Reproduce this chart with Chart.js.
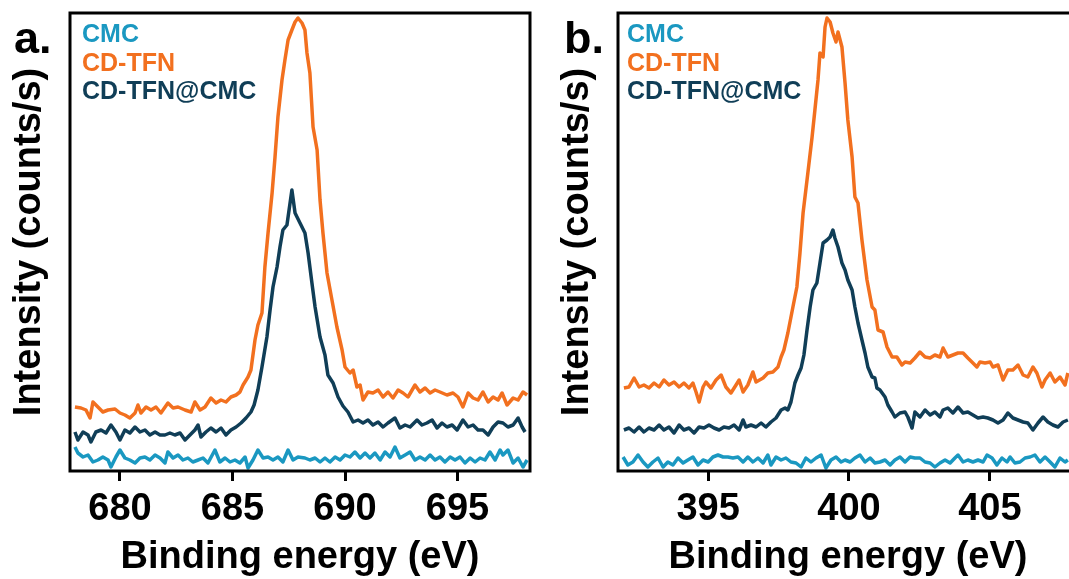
<!DOCTYPE html>
<html>
<head>
<meta charset="utf-8">
<script src="https://cdn.jsdelivr.net/npm/chart.js@4.4.1/dist/chart.umd.min.js"></script>
<style>
  html, body { margin:0; padding:0; width:1069px; height:579px; overflow:hidden; background:#fff; }
  .wrap { position:absolute; top:0; }
  .lbl { position:absolute; font-family:"Liberation Sans", Arial, sans-serif; font-weight:bold; font-size:45px; color:#000; line-height:1; }
</style>
</head>
<body>
<div class="wrap" style="left:0;width:540px;height:579px;"><canvas id="ca" width="540" height="579"></canvas></div>
<div class="wrap" style="left:548px;width:540px;height:579px;"><canvas id="cb" width="540" height="579"></canvas></div>
<div class="lbl" style="left:14px;top:15px;">a.</div>
<div class="lbl" style="left:564px;top:15px;">b.</div>
<script>
const seriesNames = ["CMC", "CD-TFN", "CD-TFN@CMC"];
const seriesColors = ["#1a98c1", "#f2701f", "#103e57"];
const xTickValuesA = [680, 685, 690, 695];
const xTickValuesB = [395, 400, 405];

// ---- Panel a: [binding energy eV, intensity a.u.] ----
const aCMC = [[678.00,24],[678.13,18],[678.36,14],[678.58,16],[678.80,9],[679.02,11],[679.24,14],[679.47,11],[679.60,4],[679.82,14],[680.00,21],[680.22,13],[680.44,11],[680.67,8],[680.89,13],[681.11,14],[681.33,11],[681.56,16],[681.78,13],[682.00,8],[682.13,19],[682.36,13],[682.58,16],[682.80,11],[683.02,13],[683.24,9],[683.47,11],[683.69,13],[683.91,8],[684.22,21],[684.44,9],[684.67,13],[684.89,9],[685.11,11],[685.33,8],[685.56,14],[685.69,3],[685.91,11],[686.13,21],[686.36,13],[686.58,14],[686.80,11],[687.02,14],[687.24,9],[687.47,21],[687.69,11],[687.91,14],[688.22,13],[688.44,11],[688.67,13],[688.89,9],[689.11,13],[689.33,9],[689.56,14],[689.78,11],[690.00,16],[690.22,14],[690.44,19],[690.67,13],[690.89,18],[691.11,13],[691.33,18],[691.56,11],[691.78,19],[692.00,14],[692.22,24],[692.44,13],[692.67,16],[692.89,19],[693.11,11],[693.33,14],[693.56,11],[693.78,16],[694.00,11],[694.22,14],[694.44,9],[694.67,14],[694.89,11],[695.11,14],[695.33,8],[695.56,13],[695.78,9],[696.00,13],[696.22,11],[696.44,19],[696.67,11],[696.89,21],[697.02,16],[697.24,21],[697.47,8],[697.69,13],[697.91,4],[698.09,11]];

const aCDTFN = [[678.00,64],[678.27,63],[678.49,61],[678.67,53],[678.80,69],[679.02,64],[679.24,59],[679.47,61],[679.78,62],[680.00,58],[680.22,56],[680.44,53],[680.67,58],[680.80,66],[680.93,58],[681.16,64],[681.38,61],[681.60,64],[681.82,58],[682.13,68],[682.36,63],[682.58,64],[682.89,61],[683.16,59],[683.33,69],[683.56,61],[683.78,64],[684.04,73],[684.27,68],[684.49,71],[684.71,69],[684.93,74],[685.16,76],[685.33,79],[685.47,86],[685.69,94],[685.82,101],[686.00,131],[686.13,146],[686.31,158],[686.44,204],[686.58,238],[686.76,278],[686.89,314],[687.02,354],[687.20,391],[687.33,411],[687.47,431],[687.64,441],[687.78,449],[687.91,453],[688.09,448],[688.22,441],[688.31,418],[688.44,398],[688.58,344],[688.76,321],[688.89,271],[689.02,238],[689.20,198],[689.42,171],[689.64,144],[689.87,121],[690.00,104],[690.22,98],[690.36,101],[690.53,84],[690.67,86],[690.80,71],[691.02,79],[691.24,78],[691.47,81],[691.69,74],[691.91,79],[692.13,73],[692.36,81],[692.58,78],[692.80,74],[693.11,86],[693.33,79],[693.56,83],[693.78,78],[694.00,81],[694.22,79],[694.53,76],[694.80,78],[695.02,74],[695.24,64],[695.47,78],[695.69,73],[695.91,71],[696.13,79],[696.36,69],[696.58,74],[696.80,71],[696.98,78],[697.20,66],[697.47,73],[697.69,71],[697.91,79],[698.09,76]];

const aCDTFNCMC = [[678.00,39],[678.13,31],[678.36,39],[678.58,36],[678.71,29],[678.93,39],[679.16,41],[679.38,38],[679.60,46],[679.82,39],[680.00,31],[680.22,41],[680.44,38],[680.67,44],[680.89,39],[681.11,41],[681.33,36],[681.56,39],[681.78,36],[682.00,36],[682.22,38],[682.44,36],[682.67,38],[682.89,31],[683.11,36],[683.33,41],[683.47,46],[683.60,34],[683.82,39],[684.04,43],[684.27,39],[684.49,43],[684.71,36],[684.93,41],[685.16,44],[685.38,48],[685.60,53],[685.82,59],[685.96,66],[686.13,81],[686.31,104],[686.53,134],[686.67,161],[686.80,184],[686.98,204],[687.11,224],[687.24,241],[687.42,246],[687.47,254],[687.64,281],[687.78,258],[688.00,248],[688.22,238],[688.36,218],[688.53,188],[688.67,164],[688.89,134],[689.11,116],[689.24,96],[689.47,88],[689.69,74],[689.91,65],[690.13,59],[690.36,49],[690.58,51],[690.80,48],[691.02,51],[691.24,46],[691.47,49],[691.69,44],[691.91,48],[692.22,53],[692.44,43],[692.67,46],[692.89,44],[693.20,51],[693.42,46],[693.64,48],[693.87,51],[694.09,43],[694.31,48],[694.53,44],[694.76,46],[694.98,41],[695.24,51],[695.47,44],[695.69,46],[695.91,41],[696.13,41],[696.36,36],[696.58,44],[696.80,49],[697.02,48],[697.24,44],[697.47,46],[697.69,53],[697.87,44],[698.00,39]];

// ---- Panel b ----
const bCMC = [[391.98,14],[392.15,6],[392.33,9],[392.51,16],[392.69,9],[392.86,4],[393.04,9],[393.22,13],[393.40,4],[393.57,9],[393.75,6],[393.93,13],[394.11,8],[394.28,11],[394.46,14],[394.64,6],[394.82,11],[395.00,9],[395.17,14],[395.35,16],[395.53,14],[395.70,14],[395.88,13],[396.06,14],[396.24,9],[396.41,14],[396.59,9],[396.77,13],[396.95,8],[397.12,16],[397.23,6],[397.41,14],[397.59,11],[397.76,13],[397.94,9],[398.12,8],[398.30,4],[398.47,13],[398.65,9],[398.83,13],[399.01,16],[399.18,3],[399.36,11],[399.54,14],[399.72,9],[399.86,11],[400.04,9],[400.21,13],[400.39,16],[400.57,9],[400.75,13],[400.92,8],[401.10,9],[401.28,11],[401.46,6],[401.63,11],[401.81,14],[401.99,9],[402.17,14],[402.34,13],[402.52,13],[402.70,9],[402.88,8],[403.05,4],[403.23,8],[403.41,11],[403.59,8],[403.76,13],[403.87,16],[404.05,9],[404.22,11],[404.40,9],[404.58,11],[404.76,9],[404.90,16],[405.08,13],[405.25,6],[405.43,13],[405.61,9],[405.72,14],[405.89,8],[406.07,9],[406.25,13],[406.43,14],[406.60,16],[406.78,9],[406.96,14],[407.14,9],[407.31,4],[407.49,13],[407.67,9],[407.77,11]];

const bCDTFN = [[392.01,83],[392.19,84],[392.37,93],[392.55,84],[392.72,86],[392.90,83],[393.08,88],[393.26,84],[393.43,91],[393.61,86],[393.79,89],[393.97,84],[394.14,88],[394.32,83],[394.46,88],[394.57,79],[394.68,69],[394.82,84],[394.92,89],[395.10,83],[395.28,91],[395.46,96],[395.63,84],[395.81,78],[395.99,86],[396.10,91],[396.24,79],[396.41,86],[396.59,99],[396.70,89],[396.95,93],[397.12,98],[397.30,99],[397.48,104],[397.59,114],[397.69,121],[397.83,138],[398.01,164],[398.15,184],[398.26,218],[398.37,258],[398.54,298],[398.69,334],[398.79,361],[398.90,391],[398.97,418],[399.08,414],[399.15,444],[399.22,453],[399.33,449],[399.43,438],[399.54,429],[399.61,439],[399.75,424],[399.86,388],[399.96,351],[400.11,314],[400.21,274],[400.32,268],[400.46,231],[400.64,191],[400.82,164],[400.92,161],[401.03,141],[401.21,139],[401.35,124],[401.53,114],[401.70,114],[401.88,106],[401.99,109],[402.17,108],[402.34,113],[402.52,119],[402.70,114],[402.88,113],[403.05,116],[403.23,114],[403.34,123],[403.51,114],[403.69,116],[403.87,118],[404.05,118],[404.22,113],[404.40,108],[404.54,104],[404.65,109],[404.83,108],[405.01,109],[405.11,104],[405.29,106],[405.47,91],[405.64,101],[405.82,101],[406.00,106],[406.18,96],[406.35,94],[406.53,104],[406.67,98],[406.85,84],[406.96,91],[407.14,98],[407.31,89],[407.49,94],[407.67,86],[407.77,98]];

const bCDTFNCMC = [[392.01,41],[392.19,43],[392.37,39],[392.55,44],[392.72,39],[392.90,43],[393.08,41],[393.26,46],[393.43,41],[393.61,44],[393.79,38],[393.97,46],[394.14,41],[394.32,43],[394.50,38],[394.68,44],[394.85,43],[395.03,46],[395.21,43],[395.39,41],[395.56,44],[395.74,43],[395.92,46],[396.10,41],[396.24,51],[396.34,44],[396.52,46],[396.70,44],[396.88,48],[397.05,44],[397.23,49],[397.41,53],[397.59,61],[397.73,63],[397.83,61],[397.94,69],[398.08,88],[398.19,96],[398.30,103],[398.40,116],[398.51,141],[398.62,164],[398.72,181],[398.86,188],[398.97,208],[399.08,228],[399.22,231],[399.33,234],[399.43,241],[399.50,233],[399.61,224],[399.75,208],[399.86,201],[399.96,191],[400.11,181],[400.21,164],[400.32,148],[400.46,131],[400.57,118],[400.67,104],[400.82,94],[400.92,93],[400.99,83],[401.10,81],[401.28,74],[401.38,66],[401.53,59],[401.63,54],[401.81,58],[401.99,59],[402.09,54],[402.24,43],[402.34,59],[402.52,54],[402.70,61],[402.88,56],[403.05,59],[403.23,54],[403.34,61],[403.51,63],[403.69,58],[403.87,64],[404.05,58],[404.22,59],[404.40,56],[404.58,53],[404.76,54],[404.93,53],[405.11,51],[405.29,48],[405.47,51],[405.64,58],[405.82,53],[406.00,51],[406.18,49],[406.35,48],[406.53,41],[406.71,48],[406.89,54],[407.06,49],[407.24,46],[407.42,44],[407.60,49],[407.77,51]];

const FONT = '"Liberation Sans", Arial, sans-serif';

const framePlugin = {
  id: 'frameAndLegend',
  afterDraw(chart, args, opts) {
    const { ctx, chartArea: { left, top, right, bottom } } = chart;
    ctx.save();
    ctx.strokeStyle = '#000';
    ctx.lineWidth = 3;
    ctx.strokeRect(left, top, right - left, bottom - top);
    ctx.font = 'bold 25px ' + FONT;
    ctx.textBaseline = 'alphabetic';
    ctx.textAlign = 'left';
    chart.data.datasets.forEach((d, i) => {
      ctx.fillStyle = d.borderColor;
      ctx.fillText(d.label, left + opts.dx, top + 29 + i * 28.7);
    });
    ctx.restore();
  }
};

function toXY(arr) { return arr.map(p => ({ x: p[0], y: p[1] })); }

function makeChart(id, sets, xmin, xmax, ticksWanted, legendDx) {
  const datasets = sets.map((s, i) => ({
    label: seriesNames[i],
    data: toXY(s),
    borderColor: seriesColors[i],
    backgroundColor: seriesColors[i],
    borderWidth: 3.5,
    borderJoinStyle: 'round',
    pointRadius: 0,
    tension: 0,
    fill: false
  }));
  return new Chart(document.getElementById(id), {
    type: 'line',
    data: { datasets },
    plugins: [framePlugin],
    options: {
      responsive: false,
      animation: false,
      devicePixelRatio: 1,
      layout: { padding: { top: 13, right: 10, left: 0, bottom: 0 } },
      plugins: {
        legend: { display: false },
        tooltip: { enabled: false },
        frameAndLegend: { dx: legendDx }
      },
      scales: {
        x: {
          type: 'linear',
          min: xmin, max: xmax,
          afterFit(scale) { scale.height = 108; },
          afterBuildTicks(scale) { scale.ticks = ticksWanted.map(v => ({ value: v })); },
          grid: { display: true, drawOnChartArea: false, drawTicks: true, tickLength: 10, tickWidth: 3, tickColor: '#000' },
          border: { display: false },
          ticks: { color: '#000', font: { family: FONT, weight: 'bold', size: 38 }, padding: 6, maxRotation: 0 },
          title: { display: true, text: 'Binding energy (eV)', color: '#000', font: { family: FONT, weight: 'bold', size: 38 }, padding: { top: 0, bottom: -1 } }
        },
        y: {
          type: 'linear',
          min: 0, max: 458,
          afterFit(scale) { scale.width = 70; },
          grid: { display: false, drawTicks: false },
          border: { display: false },
          ticks: { display: false },
          title: { display: true, text: 'Intensity (counts/s)', color: '#000', font: { family: FONT, weight: 'bold', size: 38 }, padding: { top: 7, bottom: 0 } }
        }
      }
    }
  });
}

makeChart('ca', [aCMC, aCDTFN, aCDTFNCMC], 677.78, 698.22, xTickValuesA, 12);
makeChart('cb', [bCMC, bCDTFN, bCDTFNCMC], 391.8, 408.13, xTickValuesB, 9);
</script>
</body>
</html>
